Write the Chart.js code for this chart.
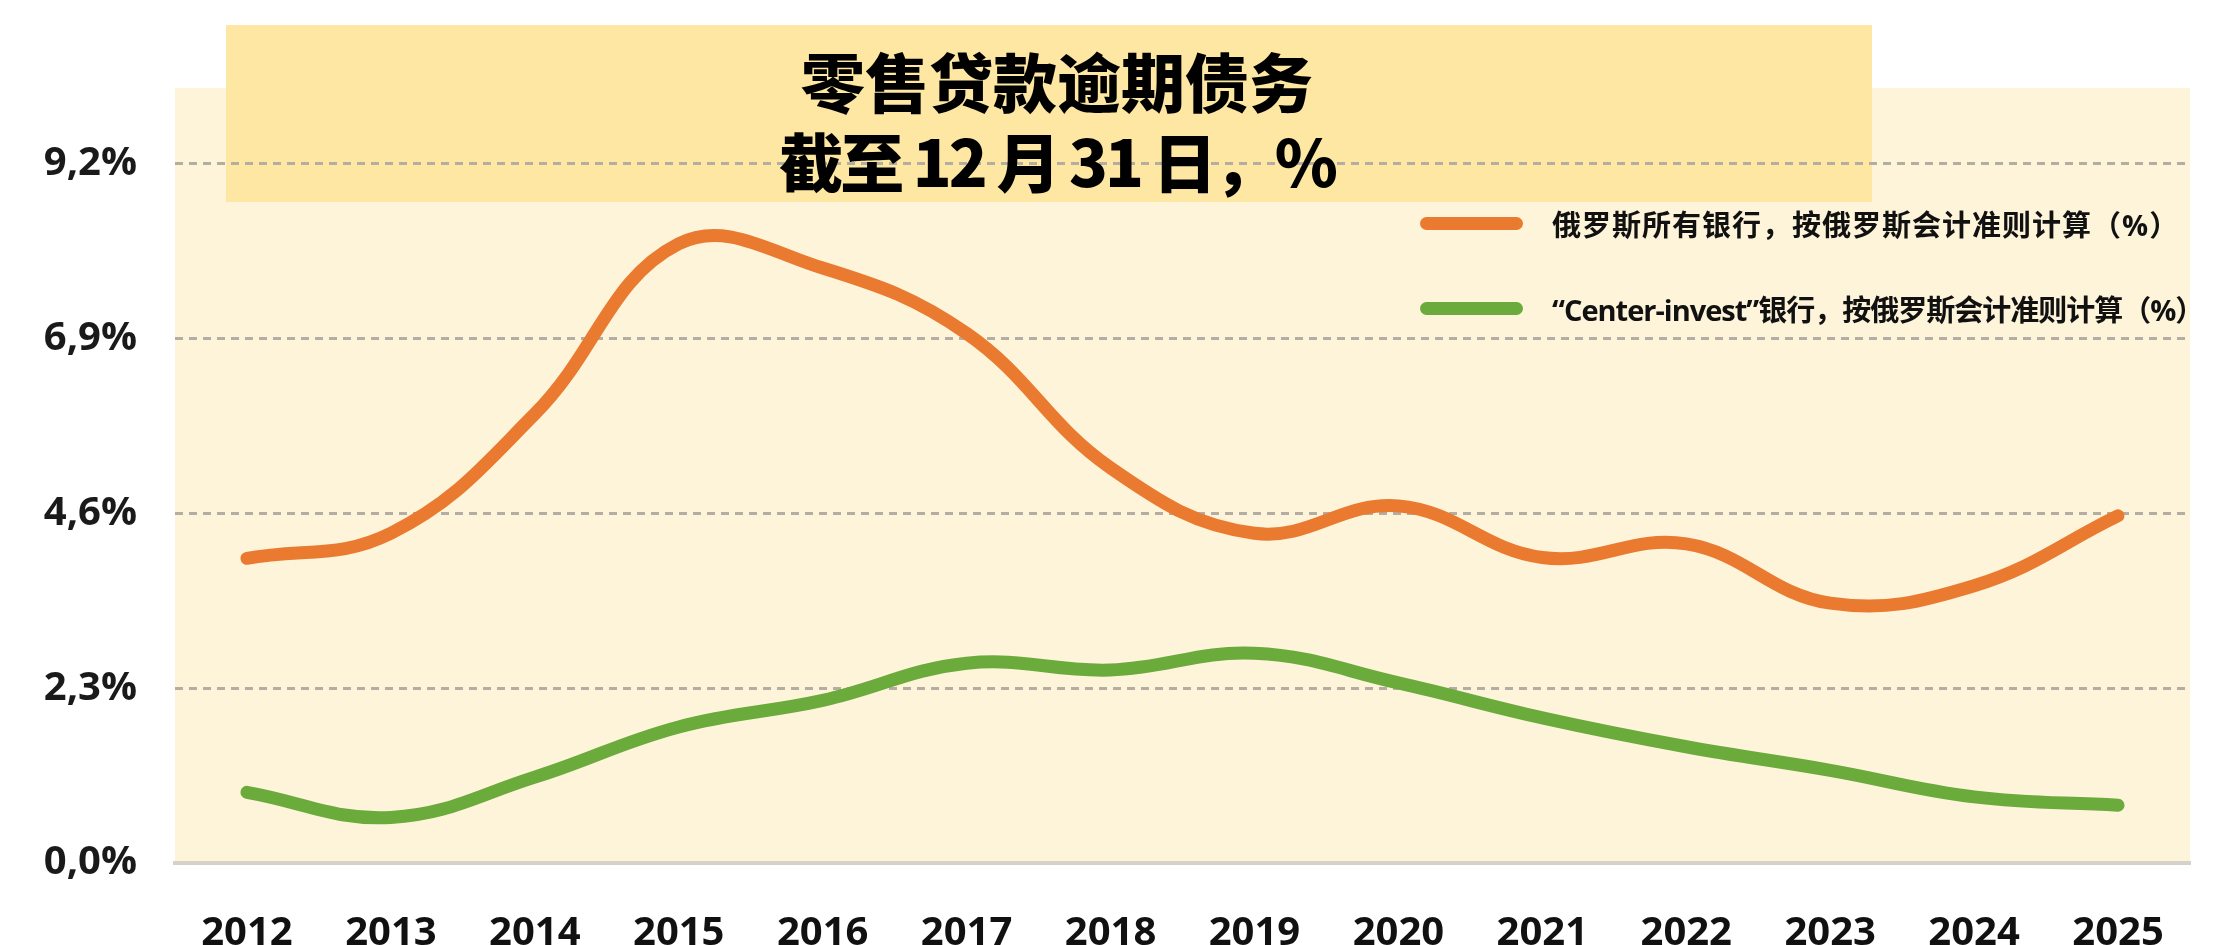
<!DOCTYPE html>
<html lang="zh-CN">
<head>
<meta charset="utf-8">
<title>零售贷款逾期债务</title>
<script src="https://cdn.jsdelivr.net/npm/chart.js@4.4.1/dist/chart.umd.min.js"></script>
<style>
  html, body { margin:0; padding:0; background:#fff; }
  #wrap { position:relative; width:2216px; height:945px; overflow:hidden; }
  #chart { position:absolute; left:0; top:0; }
  #title {
    position:absolute; left:226px; top:25px; width:1646px; height:177px;
    box-sizing:border-box; padding:14px 0 0 16px;
    text-align:center; color:#000;
    font-family:"Noto Sans CJK SC", "Open Sans", sans-serif; font-weight:900;
    font-size:64px; line-height:80px;
  }
  #title .l2 { letter-spacing:-3px; }
  .leg { position:absolute; left:1420px; height:40px; display:flex; align-items:center;
    font-family:"Open Sans", "Noto Sans CJK SC", sans-serif; font-weight:700; font-size:29px; color:#111; white-space:nowrap; }
  .leg i { display:block; width:103px; height:13px; border-radius:7px; margin-right:29px; }
  .leg:nth-child(1) span { letter-spacing:1px; }
  .leg:nth-child(2) span { letter-spacing:-1px; }
</style>
</head>
<body>
<div id="wrap">
  <canvas id="chart" width="2216" height="945"></canvas>
  <div id="title">零售贷款逾期债务<br><span class="l2">截至 12 月 31 日，%</span></div>
  <div id="legend"></div>
</div>
<script>
// ======= Dati =======
const YEARS = ["2012","2013","2014","2015","2016","2017","2018","2019","2020","2021","2022","2023","2024","2025"];
const ALL_BANKS     = [4.01, 4.34, 5.91, 8.15, 7.83, 6.97, 5.20, 4.34, 4.70, 4.02, 4.20, 3.42, 3.65, 4.57];
const CENTER_INVEST = [0.93, 0.60, 1.13, 1.79, 2.14, 2.63, 2.54, 2.76, 2.37, 1.91, 1.53, 1.22, 0.87, 0.76];
const Y_TICKS = [0, 2.3, 4.6, 6.9, 9.2];
const SERIES_LABELS = ["俄罗斯所有银行，按俄罗斯会计准则计算（%）", "“Center-invest”银行，按俄罗斯会计准则计算（%）"];
const SERIES_COLORS = ["#ea7a30", "#6aab3b"];

// ======= Sfondo + riquadro titolo =======
const backdrop = {
  id: "backdrop",
  beforeDraw(chart){
    const { ctx, chartArea:a } = chart;
    ctx.save();
    ctx.fillStyle = "#fdf4da";
    ctx.fillRect(a.left, a.top, a.right - a.left, a.bottom - a.top);
    ctx.fillStyle = "#fde7a2";
    ctx.fillRect(226, 25, 1646, 177);
    ctx.restore();
  }
};

// ======= Legenda (HTML) =======
const legendTops = [203, 288];
document.getElementById("legend").innerHTML = SERIES_LABELS.map((l, i) =>
  `<div class="leg" style="top:${legendTops[i]}px"><i style="background:${SERIES_COLORS[i]}"></i><span>${l}</span></div>`
).join("");

const tickFont = { family: "'Open Sans', sans-serif", size: 40, lineHeight: 1, weight: "700" };

new Chart(document.getElementById("chart").getContext("2d"), {
  type: "line",
  data: {
    labels: YEARS,
    datasets: [
      { label: SERIES_LABELS[0], data: ALL_BANKS, borderColor: SERIES_COLORS[0] },
      { label: SERIES_LABELS[1], data: CENTER_INVEST, borderColor: SERIES_COLORS[1] }
    ]
  },
  options: {
    responsive: false,
    animation: false,
    layout: { padding: { top: 88, right: 26, left: 0, bottom: 0 } },
    elements: {
      line: { borderWidth: 13, tension: 0.4, borderCapStyle: "round", borderJoinStyle: "round", fill: false },
      point: { radius: 0, hoverRadius: 0 }
    },
    plugins: { legend: { display: false }, tooltip: { enabled: false } },
    scales: {
      x: {
        offset: true,
        grid: { display: false },
        border: { display: true, color: "#d6d1c9", width: 4 },
        ticks: { padding: 43, color: "#111", font: tickFont },
        afterFit: s => { s.height = 82; }
      },
      y: {
        min: 0, max: 10.2,
        afterBuildTicks: s => { s.ticks = Y_TICKS.map(v => ({ value: v })); },
        grid: { color: c => c.tick && c.tick.value === 0 ? "rgba(0,0,0,0)" : "#b3ada3", lineWidth: 3, drawTicks: false },
        border: { display: false, dash: [8, 6] },
        ticks: { padding: 38, color: "#1a1a1a", font: tickFont,
          callback: v => Number(v).toFixed(1).replace(".", ",") + "%" },
        afterFit: s => { s.width = 175; }
      }
    }
  },
  plugins: [backdrop]
});
</script>
</body>
</html>
